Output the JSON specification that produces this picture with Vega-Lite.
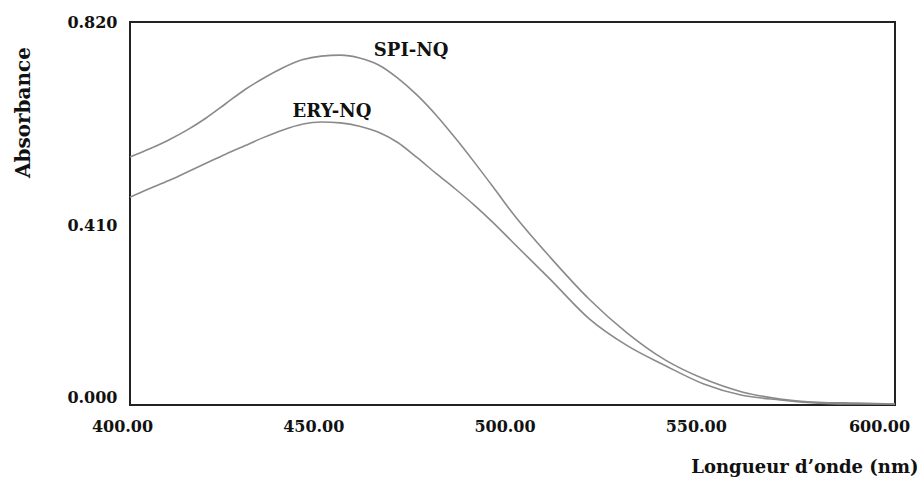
{
  "$schema": "https://vega.github.io/schema/vega-lite/v6.json",
  "width": 765,
  "height": 383,
  "autosize": "none",
  "padding": {"left": 130, "top": 22, "right": 27, "bottom": 75},
  "background": "white",
  "config": {
    "view": {"stroke": "#222222", "strokeWidth": 2},
    "font": "DejaVu Serif"
  },
  "datasets": {
    "spectra": [
      {"nm": 400, "abs": 0.531, "sample": "SPI-NQ"},
      {"nm": 405, "abs": 0.548, "sample": "SPI-NQ"},
      {"nm": 410, "abs": 0.567, "sample": "SPI-NQ"},
      {"nm": 415, "abs": 0.589, "sample": "SPI-NQ"},
      {"nm": 420, "abs": 0.615, "sample": "SPI-NQ"},
      {"nm": 425, "abs": 0.645, "sample": "SPI-NQ"},
      {"nm": 430, "abs": 0.675, "sample": "SPI-NQ"},
      {"nm": 435, "abs": 0.700, "sample": "SPI-NQ"},
      {"nm": 440, "abs": 0.722, "sample": "SPI-NQ"},
      {"nm": 445, "abs": 0.739, "sample": "SPI-NQ"},
      {"nm": 450, "abs": 0.747, "sample": "SPI-NQ"},
      {"nm": 455, "abs": 0.749, "sample": "SPI-NQ"},
      {"nm": 460, "abs": 0.743, "sample": "SPI-NQ"},
      {"nm": 465, "abs": 0.728, "sample": "SPI-NQ"},
      {"nm": 470, "abs": 0.700, "sample": "SPI-NQ"},
      {"nm": 475, "abs": 0.664, "sample": "SPI-NQ"},
      {"nm": 480, "abs": 0.621, "sample": "SPI-NQ"},
      {"nm": 485, "abs": 0.572, "sample": "SPI-NQ"},
      {"nm": 490, "abs": 0.520, "sample": "SPI-NQ"},
      {"nm": 495, "abs": 0.466, "sample": "SPI-NQ"},
      {"nm": 500, "abs": 0.411, "sample": "SPI-NQ"},
      {"nm": 510, "abs": 0.315, "sample": "SPI-NQ"},
      {"nm": 520, "abs": 0.227, "sample": "SPI-NQ"},
      {"nm": 530, "abs": 0.154, "sample": "SPI-NQ"},
      {"nm": 540, "abs": 0.096, "sample": "SPI-NQ"},
      {"nm": 550, "abs": 0.056, "sample": "SPI-NQ"},
      {"nm": 560, "abs": 0.028, "sample": "SPI-NQ"},
      {"nm": 570, "abs": 0.013, "sample": "SPI-NQ"},
      {"nm": 580, "abs": 0.006, "sample": "SPI-NQ"},
      {"nm": 590, "abs": 0.004, "sample": "SPI-NQ"},
      {"nm": 600, "abs": 0.002, "sample": "SPI-NQ"},
      {"nm": 400, "abs": 0.445, "sample": "ERY-NQ"},
      {"nm": 405, "abs": 0.463, "sample": "ERY-NQ"},
      {"nm": 410, "abs": 0.480, "sample": "ERY-NQ"},
      {"nm": 415, "abs": 0.499, "sample": "ERY-NQ"},
      {"nm": 420, "abs": 0.518, "sample": "ERY-NQ"},
      {"nm": 425, "abs": 0.537, "sample": "ERY-NQ"},
      {"nm": 430, "abs": 0.555, "sample": "ERY-NQ"},
      {"nm": 435, "abs": 0.573, "sample": "ERY-NQ"},
      {"nm": 440, "abs": 0.589, "sample": "ERY-NQ"},
      {"nm": 445, "abs": 0.601, "sample": "ERY-NQ"},
      {"nm": 450, "abs": 0.606, "sample": "ERY-NQ"},
      {"nm": 455, "abs": 0.604, "sample": "ERY-NQ"},
      {"nm": 460, "abs": 0.597, "sample": "ERY-NQ"},
      {"nm": 465, "abs": 0.584, "sample": "ERY-NQ"},
      {"nm": 470, "abs": 0.562, "sample": "ERY-NQ"},
      {"nm": 475, "abs": 0.530, "sample": "ERY-NQ"},
      {"nm": 480, "abs": 0.496, "sample": "ERY-NQ"},
      {"nm": 485, "abs": 0.463, "sample": "ERY-NQ"},
      {"nm": 490, "abs": 0.428, "sample": "ERY-NQ"},
      {"nm": 495, "abs": 0.390, "sample": "ERY-NQ"},
      {"nm": 500, "abs": 0.349, "sample": "ERY-NQ"},
      {"nm": 510, "abs": 0.268, "sample": "ERY-NQ"},
      {"nm": 520, "abs": 0.185, "sample": "ERY-NQ"},
      {"nm": 530, "abs": 0.127, "sample": "ERY-NQ"},
      {"nm": 540, "abs": 0.084, "sample": "ERY-NQ"},
      {"nm": 550, "abs": 0.045, "sample": "ERY-NQ"},
      {"nm": 560, "abs": 0.021, "sample": "ERY-NQ"},
      {"nm": 570, "abs": 0.011, "sample": "ERY-NQ"},
      {"nm": 580, "abs": 0.004, "sample": "ERY-NQ"},
      {"nm": 590, "abs": 0.002, "sample": "ERY-NQ"},
      {"nm": 600, "abs": 0.002, "sample": "ERY-NQ"}
    ],
    "labels": [
      {"nm": 473.5, "abs": 0.758, "label": "SPI-NQ"},
      {"nm": 452.8, "abs": 0.627, "label": "ERY-NQ"}
    ]
  },
  "layer": [
    {
      "data": {"name": "spectra"},
      "mark": {"type": "line", "color": "#8a8a8a", "strokeWidth": 1.6, "interpolate": "monotone"},
      "encoding": {
        "x": {
          "field": "nm",
          "type": "quantitative",
          "scale": {"domain": [400, 600], "nice": false, "zero": false},
          "axis": {
            "values": [400, 450, 500, 550, 600],
            "format": ".2f",
            "grid": false,
            "ticks": false,
            "domain": false,
            "labelFont": "DejaVu Serif",
            "labelFontWeight": "bold",
            "labelFontSize": 16,
            "labelColor": "#111111",
            "labelPadding": 13,
            "labelOffset": {"expr": "datum.value == 600 ? -16 : -8"},
            "labelFlush": false,
            "title": "Longueur d’onde (nm)",
            "titleFont": "DejaVu Serif",
            "titleFontWeight": "bold",
            "titleFontSize": 18,
            "titleColor": "#111111",
            "titleAlign": "right",
            "titleBaseline": "middle",
            "titleAnchor": "end",
            "titleX": 788,
            "titleY": 62
          }
        },
        "y": {
          "field": "abs",
          "type": "quantitative",
          "scale": {"domain": [0, 0.82], "nice": false},
          "axis": {
            "values": [0, 0.41, 0.82],
            "format": ".3f",
            "grid": false,
            "ticks": false,
            "domain": false,
            "labelFont": "DejaVu Serif",
            "labelFontWeight": "bold",
            "labelFontSize": 16,
            "labelColor": "#111111",
            "labelPadding": 13,
            "labelFlush": false,
            "labelBaseline": "middle",
            "labelOffset": {"expr": "datum.value == 0 ? -8 : (datum.value > 0.4 && datum.value < 0.42 ? 12 : 0)"},
            "title": "Absorbance",
            "titleFont": "DejaVu Serif",
            "titleFontWeight": "bold",
            "titleFontSize": 20,
            "titleColor": "#111111",
            "titleAngle": -90,
            "titleAlign": "center",
            "titleBaseline": "middle",
            "titleX": -107,
            "titleY": 90
          }
        },
        "detail": {"field": "sample"}
      }
    },
    {
      "data": {"name": "labels"},
      "mark": {
        "type": "text",
        "font": "DejaVu Serif",
        "fontWeight": "bold",
        "fontSize": 18,
        "color": "#111111",
        "align": "center",
        "baseline": "middle"
      },
      "encoding": {
        "x": {"field": "nm", "type": "quantitative"},
        "y": {"field": "abs", "type": "quantitative"},
        "text": {"field": "label"}
      }
    }
  ]
}
